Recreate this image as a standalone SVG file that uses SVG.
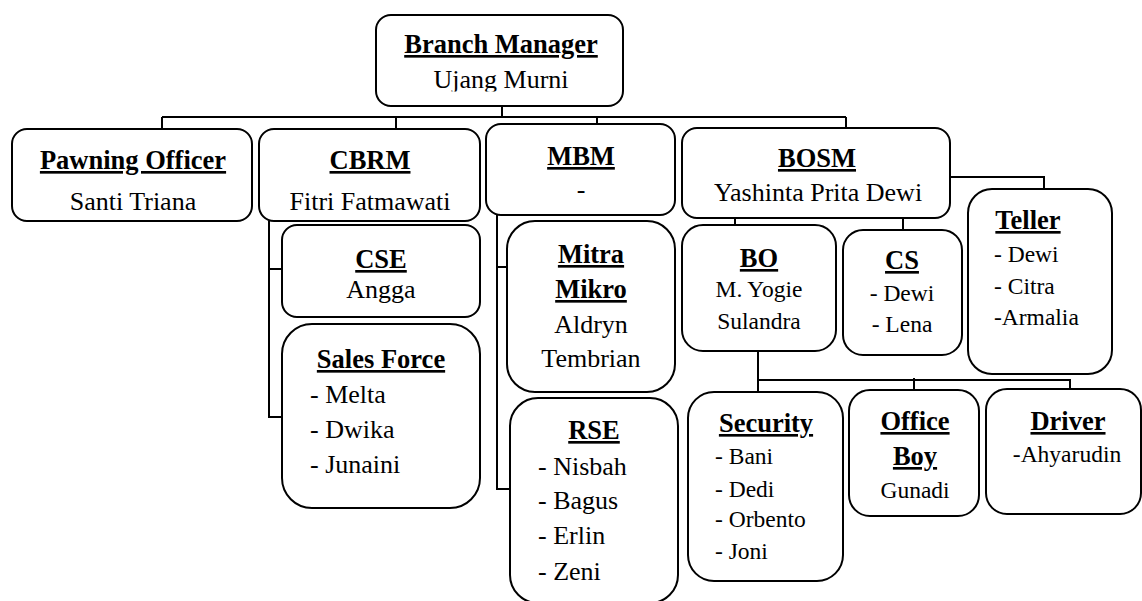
<svg xmlns="http://www.w3.org/2000/svg" width="1142" height="601" viewBox="0 0 1142 601" font-family="Liberation Serif" fill="#000">
<defs>
<clipPath id="clipBM"><rect x="376" y="15" width="248" height="76.5"/></clipPath>
</defs>
<rect width="1142" height="601" fill="#fff"/>
<g id="connectors" fill="none" stroke="#000" stroke-width="2">
<path d="M502,106V117M162,117H846M162,117V129M396,117V129M597,117V124M846,117V128"/>
<path d="M950,177H1044V189M735,218V225M903,218V230"/>
<path d="M269,221V417H282M269,269H282"/>
<path d="M497,215V489H510M497,267H507"/>
<path d="M758,351V392M758,380H1070V389M914,378V390"/>
</g>
<g id="nodes" font-size="26">
<g id="branch-manager" text-anchor="middle">
<rect x="376" y="15" width="247" height="91" rx="15" fill="#fff" stroke="#000" stroke-width="2"/>
<text x="501" y="53" font-weight="bold" font-size="26.5" text-decoration="underline">Branch Manager</text>
<text x="501" y="88" clip-path="url(#clipBM)">Ujang Murni</text>
</g>
<g id="pawning-officer" text-anchor="middle">
<rect x="12" y="129" width="240" height="92" rx="15" fill="#fff" stroke="#000" stroke-width="2"/>
<text x="133" y="169" font-weight="bold" font-size="26.5" text-decoration="underline">Pawning Officer</text>
<text x="133" y="210">Santi Triana</text>
</g>
<g id="cbrm" text-anchor="middle">
<rect x="259" y="129" width="221" height="92" rx="15" fill="#fff" stroke="#000" stroke-width="2"/>
<text x="370" y="169" font-weight="bold" font-size="26.5" text-decoration="underline">CBRM</text>
<text x="370" y="210">Fitri Fatmawati</text>
</g>
<g id="mbm" text-anchor="middle">
<rect x="486" y="124" width="189" height="91" rx="15" fill="#fff" stroke="#000" stroke-width="2"/>
<text x="581" y="165" font-weight="bold" font-size="26.5" text-decoration="underline">MBM</text>
<text x="581" y="198">-</text>
</g>
<g id="bosm" text-anchor="middle">
<rect x="682" y="128" width="268" height="90" rx="15" fill="#fff" stroke="#000" stroke-width="2"/>
<text x="817" y="167" font-weight="bold" font-size="26.5" text-decoration="underline">BOSM</text>
<text x="818" y="201">Yashinta Prita Dewi</text>
</g>
<g id="cse" text-anchor="middle">
<rect x="282" y="225" width="198" height="92" rx="15" fill="#fff" stroke="#000" stroke-width="2"/>
<text x="381" y="268" font-weight="bold" font-size="26.5" text-decoration="underline">CSE</text>
<text x="381" y="298">Angga</text>
</g>
<g id="sales-force">
<rect x="282" y="324" width="198" height="184" rx="30" fill="#fff" stroke="#000" stroke-width="2"/>
<text x="381" y="368" font-weight="bold" font-size="26.5" text-decoration="underline" text-anchor="middle">Sales Force</text>
<text x="310" y="403">- Melta</text>
<text x="310" y="438">- Dwika</text>
<text x="310" y="473">- Junaini</text>
</g>
<g id="mitra-mikro" text-anchor="middle">
<rect x="507" y="221" width="168" height="171" rx="28" fill="#fff" stroke="#000" stroke-width="2"/>
<text x="591" y="263" font-weight="bold" font-size="26.5" text-decoration="underline">Mitra</text>
<text x="591" y="298" font-weight="bold" font-size="26.5" text-decoration="underline">Mikro</text>
<text x="591" y="333">Aldryn</text>
<text x="591" y="367">Tembrian</text>
</g>
<g id="rse">
<rect x="510" y="398" width="168" height="205" rx="28" fill="#fff" stroke="#000" stroke-width="2"/>
<text x="594" y="439" font-weight="bold" font-size="26.5" text-decoration="underline" text-anchor="middle">RSE</text>
<text x="538" y="475">- Nisbah</text>
<text x="538" y="509">- Bagus</text>
<text x="538" y="544">- Erlin</text>
<text x="538" y="580">- Zeni</text>
</g>
<g id="bo" text-anchor="middle" font-size="23.5">
<rect x="682" y="225" width="154" height="126" rx="21" fill="#fff" stroke="#000" stroke-width="2"/>
<text x="759" y="267" font-weight="bold" font-size="26.5" text-decoration="underline">BO</text>
<text x="759" y="297">M. Yogie</text>
<text x="759" y="329">Sulandra</text>
</g>
<g id="cs" text-anchor="middle" font-size="23.5">
<rect x="843" y="230" width="119" height="125" rx="20" fill="#fff" stroke="#000" stroke-width="2"/>
<text x="902" y="269" font-weight="bold" font-size="26.5" text-decoration="underline">CS</text>
<text x="902" y="301">- Dewi</text>
<text x="902" y="332">- Lena</text>
</g>
<g id="teller" font-size="23.5">
<rect x="968" y="189" width="144" height="185" rx="24" fill="#fff" stroke="#000" stroke-width="2"/>
<text x="1028" y="229" font-weight="bold" font-size="26.5" text-decoration="underline" text-anchor="middle">Teller</text>
<text x="994" y="262">- Dewi</text>
<text x="994" y="294">- Citra</text>
<text x="994" y="325">-Armalia</text>
</g>
<g id="security" font-size="23.5">
<rect x="688" y="392" width="155" height="189" rx="26" fill="#fff" stroke="#000" stroke-width="2"/>
<text x="766" y="432" font-weight="bold" font-size="26.5" text-decoration="underline" text-anchor="middle">Security</text>
<text x="715" y="464">- Bani</text>
<text x="715" y="497">- Dedi</text>
<text x="715" y="527">- Orbento</text>
<text x="715" y="559">- Joni</text>
</g>
<g id="office-boy" text-anchor="middle" font-size="23.5">
<rect x="849" y="390" width="130" height="126" rx="21" fill="#fff" stroke="#000" stroke-width="2"/>
<text x="915" y="430" font-weight="bold" font-size="26.5" text-decoration="underline">Office</text>
<text x="915" y="465" font-weight="bold" font-size="26.5" text-decoration="underline">Boy</text>
<text x="915" y="498">Gunadi</text>
</g>
<g id="driver" text-anchor="middle" font-size="23.5">
<rect x="986" y="389" width="155" height="125" rx="21" fill="#fff" stroke="#000" stroke-width="2"/>
<text x="1068" y="430" font-weight="bold" font-size="26.5" text-decoration="underline">Driver</text>
<text x="1067" y="462">-Ahyarudin</text>
</g>
</g>
</svg>
